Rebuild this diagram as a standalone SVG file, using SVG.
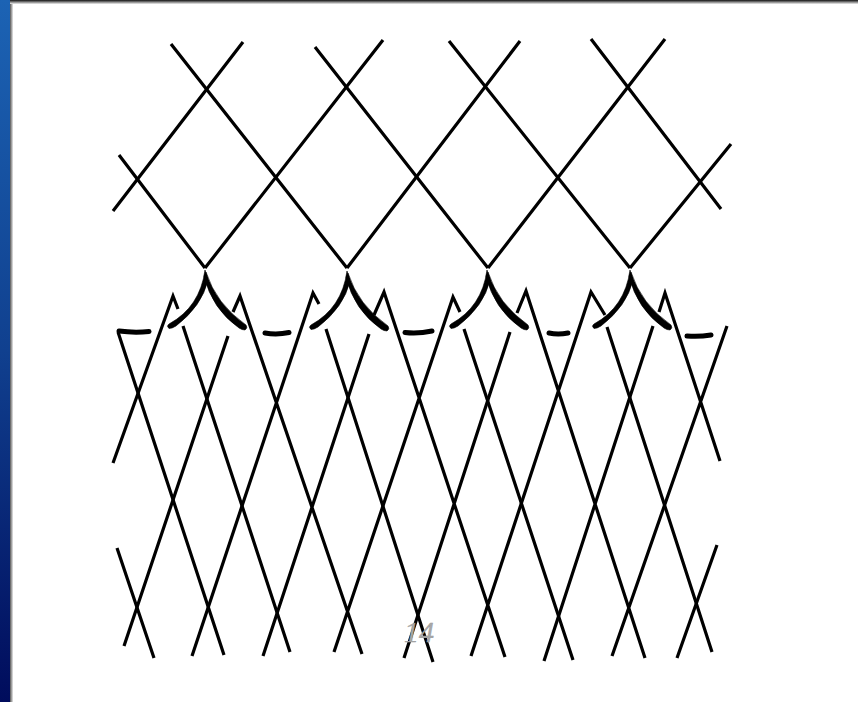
<svg xmlns="http://www.w3.org/2000/svg" width="858" height="702" viewBox="0 0 858 702">
<defs>
<linearGradient id="side" x1="0" y1="0" x2="0" y2="1"><stop offset="0" stop-color="#1c63b4"/><stop offset="0.5" stop-color="#10408f"/><stop offset="1" stop-color="#000c5c"/></linearGradient>
<linearGradient id="edgeV" x1="0" y1="0" x2="1" y2="0"><stop offset="0" stop-color="#555"/><stop offset="1" stop-color="#e8e8e8"/></linearGradient>
<linearGradient id="edgeH" x1="0" y1="0" x2="0" y2="1"><stop offset="0" stop-color="#111"/><stop offset="1" stop-color="#eee"/></linearGradient>
<path id="armL" d="M0,0 Q-5,37 -36,54 Q-39,56 -36,58.500 Q-33,58.500 -29,56 Q-3,36 3,10 Z"/>
<path id="armR" d="M1,2 Q11,34 41,55 Q43,58 40,60 Q37,60 34,58 Q7,39 -1,6 Z"/>
</defs>
<style>
.l{fill:none;stroke:#000;stroke-width:3.2;stroke-linecap:butt}
.d{fill:none;stroke:#000;stroke-width:5;stroke-linecap:round}
.a{fill:#000;stroke:#000;stroke-width:.6}
.n{font-family:"Liberation Serif",serif;font-style:italic;font-size:30px;fill:#a8a8a8;stroke:#999;stroke-width:.4;opacity:.99}
</style>
<rect width="858" height="702" fill="#fff"/>
<rect x="0" y="0" width="10" height="702" fill="url(#side)"/>
<rect x="10" y="0" width="3" height="702" fill="url(#edgeV)"/>
<rect x="10" y="0" width="848" height="4" fill="url(#edgeH)"/>
<g id="upper-lattice">
<path class="l" d="M171,44L347,268M315,47L488,268M449,41L630,268M591,39L721,209M119,155L205,268"/>
<path class="l" d="M113,211L243,42M205,268L383,40M347,268L520,41M488,268L665,39M630,268L731,144"/>
</g>
<g id="lower-lattice">
<path class="l" d="M113,463L173,296L178,309M124,646L228,336M233,312L240,296L362,654M192,656L313,293L319,304M263,656L369,334M374,315L384,292L505,657M334,652L453,297L460,312M404,658L510,332M517,313L526,291L645,658M471,656L591,292L605,315M544,661L653,326M612,656L727,326M659,312L665,293L720,461M677,658L717,545"/>
<path class="l" d="M118,332L224,655M183,326L290,652M326,329L433,662M464,329L573,660M607,327L712,652M117,548L154,658"/>
</g>
<g id="joins">
<use href="#armL" class="a" x="205" y="270"/><use href="#armR" class="a" x="205" y="270"/>
<use href="#armL" class="a" x="347" y="271"/><use href="#armR" class="a" x="347" y="271"/>
<use href="#armL" class="a" x="487" y="270"/><use href="#armR" class="a" x="487" y="270"/>
<use href="#armL" class="a" x="630" y="270"/><use href="#armR" class="a" x="630" y="270"/>
<path class="d" d="M119,331Q134,333 149,331.500M265,333Q277,335 289,332.500M405,332.500Q418,334 432,331M549,333Q558,335 568,333M687,336Q699,337 711,335"/>
</g>
<text class="n" x="404" y="642">14</text>
</svg>
